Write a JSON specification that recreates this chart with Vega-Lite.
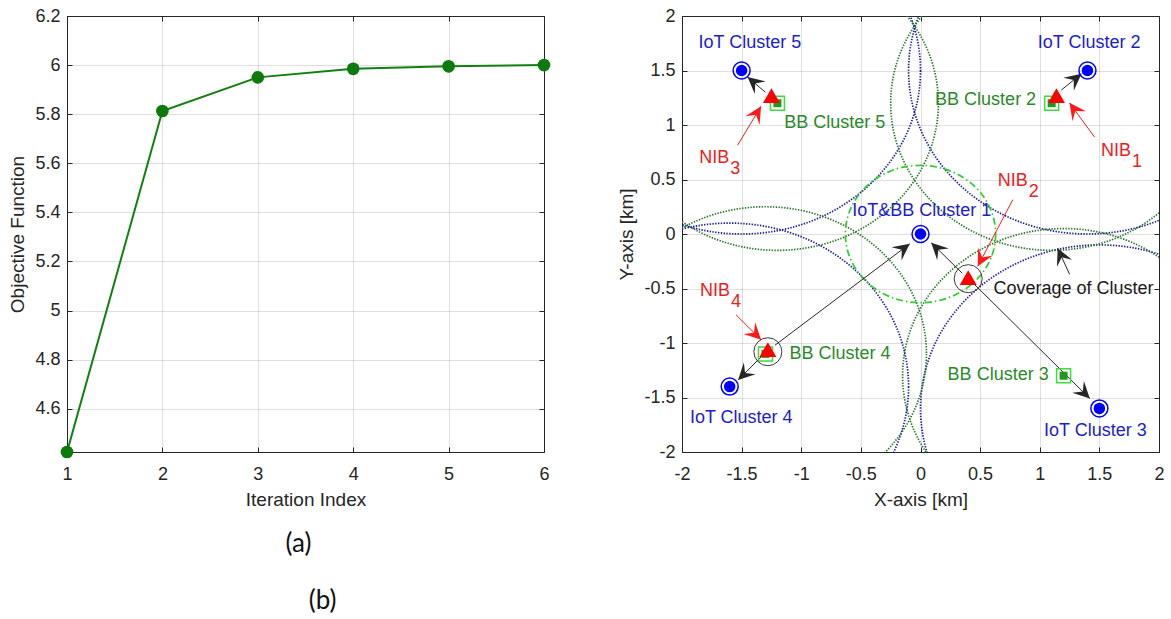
{
  "$schema": "https://vega.github.io/schema/vega-lite/v6.json",
  "background": "white",
  "padding": {"left": 8, "top": 6, "right": 4, "bottom": 0},
  "bounds": "flush",
  "spacing": 138,
  "config": {
    "font": "Liberation Sans",
    "view": {"stroke": "#262626", "strokeWidth": 1},
    "axis": {
      "grid": true, "gridColor": "#262626", "gridOpacity": 0.15, "gridWidth": 1,
      "domain": false, "ticks": true, "tickColor": "#262626", "tickSize": -5, "tickWidth": 1,
      "labelFont": "Liberation Sans", "labelFontSize": 18, "labelColor": "#262626",
      "labelFlush": false, "labelOverlap": false,
      "titleFont": "Liberation Sans", "titleFontSize": 19, "titleFontWeight": "normal", "titleColor": "#262626"
    },
    "axisX": {"labelPadding": 18, "titlePadding": 7},
    "axisY": {"labelPadding": 12, "titlePadding": 7}
  },
  "datasets": {
    "objective": [
      {"iteration": 1, "objective": 4.424},
      {"iteration": 2, "objective": 5.813},
      {"iteration": 3, "objective": 5.95},
      {"iteration": 4, "objective": 5.985},
      {"iteration": 5, "objective": 5.995},
      {"iteration": 6, "objective": 6.0}
    ],
    "coverage": [
      {"tier": "IoT", "x": 1.4, "y": 1.5},
      {"tier": "IoT", "x": 1.5, "y": -1.6},
      {"tier": "IoT", "x": -1.6, "y": -1.4},
      {"tier": "IoT", "x": -1.5, "y": 1.5},
      {"tier": "BB", "x": 1.1, "y": 1.2},
      {"tier": "BB", "x": 1.2, "y": -1.3},
      {"tier": "BB", "x": -1.3, "y": -1.1},
      {"tier": "BB", "x": -1.2, "y": 1.2},
      {"tier": "core", "x": 0, "y": 0}
    ],
    "nodes": [
      {"type": "IoT", "id": 1, "x": 0, "y": 0},
      {"type": "IoT", "id": 2, "x": 1.4, "y": 1.5},
      {"type": "IoT", "id": 3, "x": 1.5, "y": -1.6},
      {"type": "IoT", "id": 4, "x": -1.6, "y": -1.4},
      {"type": "IoT", "id": 5, "x": -1.5, "y": 1.5},
      {"type": "BB", "id": 2, "x": 1.1, "y": 1.2},
      {"type": "BB", "id": 3, "x": 1.2, "y": -1.3},
      {"type": "BB", "id": 4, "x": -1.3, "y": -1.1},
      {"type": "BB", "id": 5, "x": -1.2, "y": 1.2},
      {"type": "NIB", "id": 1, "x": 1.14, "y": 1.27},
      {"type": "NIB", "id": 2, "x": 0.4, "y": -0.4},
      {"type": "NIB", "id": 3, "x": -1.25, "y": 1.27},
      {"type": "NIB", "id": 4, "x": -1.28, "y": -1.06},
      {"type": "ring", "id": 2, "x": 0.4, "y": -0.41},
      {"type": "ring", "id": 4, "x": -1.28, "y": -1.08}
    ],
    "arrows": [
      {"x1": -1.3, "y1": 1.3, "x2": -1.45, "y2": 1.44, "kind": "link"},
      {"x1": 1.18, "y1": 1.32, "x2": 1.35, "y2": 1.47, "kind": "link"},
      {"x1": -1.22, "y1": -1.02, "x2": -0.09, "y2": -0.09, "kind": "link"},
      {"x1": -1.33, "y1": -1.12, "x2": -1.53, "y2": -1.34, "kind": "link"},
      {"x1": 0.35, "y1": -0.36, "x2": 0.09, "y2": -0.08, "kind": "link"},
      {"x1": 0.45, "y1": -0.46, "x2": 1.42, "y2": -1.51, "kind": "link"},
      {"x1": 1.25, "y1": -0.37, "x2": 1.15, "y2": -0.13, "kind": "link"},
      {"x1": -1.534, "y1": 0.814, "x2": -1.337, "y2": 1.172, "kind": "pointer"},
      {"x1": 1.459, "y1": 0.89, "x2": 1.249, "y2": 1.203, "kind": "pointer"},
      {"x1": 0.774, "y1": 0.315, "x2": 0.48, "y2": -0.297, "kind": "pointer"},
      {"x1": -1.547, "y1": -0.741, "x2": -1.337, "y2": -0.97, "kind": "pointer"}
    ],
    "labels": [
      {"text": "IoT Cluster 5", "x": -1.43, "y": 1.75, "kind": "IoT"},
      {"text": "IoT Cluster 2", "x": 1.414, "y": 1.754, "kind": "IoT"},
      {"text": "IoT&BB Cluster 1", "x": 0.01, "y": 0.208, "kind": "IoT"},
      {"text": "IoT Cluster 4", "x": -1.503, "y": -1.684, "kind": "IoT"},
      {"text": "IoT Cluster 3", "x": 1.467, "y": -1.81, "kind": "IoT"},
      {"text": "BB Cluster 5", "x": -0.719, "y": 1.019, "kind": "BB"},
      {"text": "BB Cluster 2", "x": 0.546, "y": 1.233, "kind": "BB"},
      {"text": "BB Cluster 3", "x": 0.651, "y": -1.291, "kind": "BB"},
      {"text": "BB Cluster 4", "x": -0.675, "y": -1.101, "kind": "BB"},
      {"text": "Coverage of Cluster", "x": 1.283, "y": -0.505, "kind": "note"}
    ],
    "nib": [
      {"base": "NIB", "sub": "1", "x": 1.514, "y": 0.758},
      {"base": "NIB", "sub": "2", "x": 0.647, "y": 0.483},
      {"base": "NIB", "sub": "3", "x": -1.855, "y": 0.7},
      {"base": "NIB", "sub": "4", "x": -1.849, "y": -0.527}
    ]
  },
  "hconcat": [
    {
      "width": 477,
      "height": 436,
      "title": {"text": "(a)", "subtitle": "\u2060\u00a0\u00a0\u00a0\u2009(b)", "orient": "bottom", "anchor": "middle", "align": "left", "dx": -20, "offset": 22, "font": "Lato", "fontSize": 26, "fontWeight": "normal", "color": "#111111", "subtitleFont": "Lato", "subtitleFontSize": 26, "subtitleColor": "#111111", "subtitlePadding": 31},
      "data": {"name": "objective"},
      "layer": [
        {
          "mark": {"type": "line", "color": "#118011", "strokeWidth": 2},
          "encoding": {
            "x": {"field": "iteration", "type": "quantitative", "scale": {"domain": [1, 6], "nice": false, "zero": false}, "axis": {"values": [1, 2, 3, 4, 5, 6], "format": "d", "title": "Iteration Index"}},
            "y": {"field": "objective", "type": "quantitative", "scale": {"domain": [4.424, 6.2], "nice": false, "zero": false}, "axis": {"values": [4.6, 4.8, 5, 5.2, 5.4, 5.6, 5.8, 6, 6.2], "format": "~g", "title": "Objective Function"}}
          }
        },
        {
          "mark": {"type": "point", "shape": "circle", "filled": true, "color": "#0d7a0d", "size": 161, "opacity": 1},
          "encoding": {
            "x": {"field": "iteration", "type": "quantitative", "scale": {"domain": [1, 6], "nice": false, "zero": false}, "axis": {"orient": "top", "values": [1, 2, 3, 4, 5, 6], "labels": false, "grid": false, "title": null}},
            "y": {"field": "objective", "type": "quantitative", "scale": {"domain": [4.424, 6.2], "nice": false, "zero": false}, "axis": {"orient": "right", "values": [4.6, 4.8, 5, 5.2, 5.4, 5.6, 5.8, 6, 6.2], "labels": false, "grid": false, "title": null}}
          }
        }
      ],
      "resolve": {"axis": {"x": "independent", "y": "independent"}}
    },
    {
      "width": 477,
      "height": 436,
      "encoding": {
        "x": {"field": "x", "type": "quantitative", "scale": {"domain": [-2, 2], "nice": false, "zero": false}, "axis": null},
        "y": {"field": "y", "type": "quantitative", "scale": {"domain": [-2, 2], "nice": false, "zero": false}, "axis": null}
      },
      "layer": [
        {
          "data": {"name": "coverage"},
          "transform": [{"filter": "datum.tier === 'IoT'"}],
          "mark": {"type": "point", "shape": "M1,0C1,0.5048,0.5523,0.914,0,0.914C-0.5523,0.914,-1,0.5048,-1,0C-1,-0.5048,-0.5523,-0.914,0,-0.914C0.5523,-0.914,1,-0.5048,1,0Z", "size": 127985, "filled": false, "stroke": "#1c1ca0", "strokeWidth": 1.7, "strokeDash": [1.4, 1.4], "opacity": 1, "clip": true},
          "encoding": {
            "x": {"field": "x", "type": "quantitative", "scale": {"domain": [-2, 2], "nice": false, "zero": false}, "axis": {"values": [-2, -1.5, -1, -0.5, 0, 0.5, 1, 1.5, 2], "format": "~g", "labelExpr": "replace(datum.label, '\u2212', '-')", "title": "X-axis [km]"}},
            "y": {"field": "y", "type": "quantitative", "scale": {"domain": [-2, 2], "nice": false, "zero": false}, "axis": {"values": [-2, -1.5, -1, -0.5, 0, 0.5, 1, 1.5, 2], "format": "~g", "labelExpr": "replace(datum.label, '\u2212', '-')", "title": "Y-axis [km]"}}
          }
        },
        {
          "data": {"name": "coverage"},
          "transform": [{"filter": "datum.tier === 'BB'"}],
          "mark": {"type": "point", "shape": "M1,0C1,0.5048,0.5523,0.914,0,0.914C-0.5523,0.914,-1,0.5048,-1,0C-1,-0.5048,-0.5523,-0.914,0,-0.914C0.5523,-0.914,1,-0.5048,1,0Z", "size": 103670, "filled": false, "stroke": "#2a762a", "strokeWidth": 1.7, "strokeDash": [1.4, 1.4], "opacity": 1, "clip": true}
        },
        {
          "data": {"name": "coverage"},
          "transform": [{"filter": "datum.tier === 'core'"}],
          "mark": {"type": "point", "shape": "M1,0C1,0.5048,0.5523,0.914,0,0.914C-0.5523,0.914,-1,0.5048,-1,0C-1,-0.5048,-0.5523,-0.914,0,-0.914C0.5523,-0.914,1,-0.5048,1,0Z", "size": 22577, "filled": false, "stroke": "#2ecc2e", "strokeWidth": 1.7, "strokeDash": [7, 3, 1.5, 3], "opacity": 1, "clip": true}
        },
        {
          "data": {"name": "arrows"},
          "mark": {"type": "rule", "strokeWidth": 1},
          "encoding": {
            "x": {"field": "x1", "type": "quantitative", "scale": {"domain": [-2, 2], "nice": false, "zero": false}, "axis": null},
            "y": {"field": "y1", "type": "quantitative", "scale": {"domain": [-2, 2], "nice": false, "zero": false}, "axis": null},
            "x2": {"field": "x2"},
            "y2": {"field": "y2"},
            "color": {"field": "kind", "type": "nominal", "scale": {"domain": ["IoT", "BB", "note", "link", "pointer"], "range": ["#1c1cd0", "#2a8a2a", "#1a1a1a", "#262626", "#ff1a1a"]}, "legend": null}
          }
        },
        {
          "data": {"name": "arrows"},
          "transform": [{"calculate": "atan2((datum.x2 - datum.x1) * 119.25, (datum.y2 - datum.y1) * 109) * 180 / PI", "as": "angle"}],
          "mark": {"type": "point", "shape": "M0,0L-0.5,1L0,0.6L0.5,1Z", "size": 1100, "filled": true, "opacity": 1},
          "encoding": {
            "x": {"field": "x2", "type": "quantitative", "scale": {"domain": [-2, 2], "nice": false, "zero": false}, "axis": null},
            "y": {"field": "y2", "type": "quantitative", "scale": {"domain": [-2, 2], "nice": false, "zero": false}, "axis": null},
            "angle": {"field": "angle", "type": "quantitative", "scale": null},
            "color": {"field": "kind", "type": "nominal", "scale": {"domain": ["IoT", "BB", "note", "link", "pointer"], "range": ["#1c1cd0", "#2a8a2a", "#1a1a1a", "#000000", "#ff1a1a"]}, "legend": null}
          }
        },
        {
          "data": {"name": "nodes"},
          "transform": [{"filter": "datum.type === 'BB'"}],
          "mark": {"type": "point", "shape": "square", "size": 196, "filled": false, "stroke": "#3ddc3d", "strokeWidth": 1.5, "opacity": 1}
        },
        {
          "data": {"name": "nodes"},
          "transform": [{"filter": "datum.type === 'BB'"}],
          "mark": {"type": "point", "shape": "square", "size": 64, "filled": true, "color": "#1f9a1f", "opacity": 1}
        },
        {
          "data": {"name": "nodes"},
          "transform": [{"filter": "datum.type === 'ring'"}],
          "mark": {"type": "point", "shape": "circle", "size": 784, "filled": false, "stroke": "#3a3a3a", "strokeWidth": 1, "opacity": 1}
        },
        {
          "data": {"name": "nodes"},
          "transform": [{"filter": "datum.type === 'NIB'"}],
          "mark": {"type": "point", "shape": "triangle-up", "size": 289, "filled": true, "color": "#ff0000", "opacity": 1}
        },
        {
          "data": {"name": "nodes"},
          "transform": [{"filter": "datum.type === 'IoT'"}],
          "mark": {"type": "point", "shape": "circle", "size": 289, "filled": false, "stroke": "#0000ff", "strokeWidth": 1.5, "opacity": 1}
        },
        {
          "data": {"name": "nodes"},
          "transform": [{"filter": "datum.type === 'IoT'"}],
          "mark": {"type": "point", "shape": "circle", "size": 132, "filled": true, "color": "#0000ff", "opacity": 1},
          "encoding": {
            "x": {"field": "x", "type": "quantitative", "scale": {"domain": [-2, 2], "nice": false, "zero": false}, "axis": {"orient": "top", "values": [-2, -1.5, -1, -0.5, 0, 0.5, 1, 1.5, 2], "labels": false, "grid": false, "title": null}},
            "y": {"field": "y", "type": "quantitative", "scale": {"domain": [-2, 2], "nice": false, "zero": false}, "axis": {"orient": "right", "values": [-2, -1.5, -1, -0.5, 0, 0.5, 1, 1.5, 2], "labels": false, "grid": false, "title": null}}
          }
        },
        {
          "data": {"name": "labels"},
          "mark": {"type": "text", "font": "Liberation Sans", "fontSize": 18, "align": "center", "baseline": "middle"},
          "encoding": {
            "text": {"field": "text"},
            "color": {"field": "kind", "type": "nominal", "scale": {"domain": ["IoT", "BB", "note", "link", "pointer"], "range": ["#1c1cd0", "#2a8a2a", "#1a1a1a", "#000000", "#ff1a1a"]}, "legend": null}
          }
        },
        {
          "data": {"name": "nib"},
          "mark": {"type": "text", "font": "Liberation Sans", "fontSize": 18, "align": "left", "baseline": "middle", "color": "#ee1c1c"},
          "encoding": {"text": {"field": "base"}}
        },
        {
          "data": {"name": "nib"},
          "mark": {"type": "text", "font": "Liberation Sans", "fontSize": 18, "align": "left", "baseline": "middle", "color": "#ee1c1c", "dx": 31, "dy": 11},
          "encoding": {"text": {"field": "sub"}}
        }
      ],
      "resolve": {"axis": {"x": "independent", "y": "independent"}}
    }
  ]
}
